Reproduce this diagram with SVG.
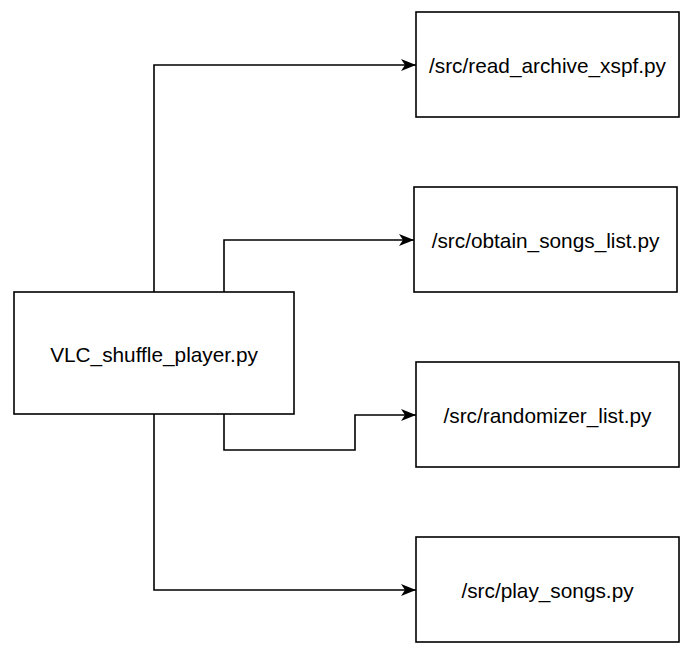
<svg xmlns="http://www.w3.org/2000/svg" width="691" height="653" viewBox="0 0 691 653">
<style>
.box{fill:#fff;stroke:#000;stroke-width:1.6}
.lbl{font-family:"Liberation Sans",Arial,sans-serif;font-size:20.8px;fill:#000;text-anchor:middle;dominant-baseline:central}
.edge{fill:none;stroke:#000;stroke-width:1.6}
</style>
<defs>
<marker id="arr" viewBox="0 0 15 12" refX="15" refY="6" markerWidth="15" markerHeight="12" markerUnits="userSpaceOnUse" orient="auto">
<path d="M0,0 L15,6 L0,12 L4,6 Z" fill="#000"/>
</marker>
</defs>
<rect width="691" height="653" fill="#fff"/>
<g id="connectors">
<path class="edge" d="M154,292 V65 H416" marker-end="url(#arr)"/>
<path class="edge" d="M224,292 V240 H414" marker-end="url(#arr)"/>
<path class="edge" d="M224,414 V450 H355 V415 H416" marker-end="url(#arr)"/>
<path class="edge" d="M154,414 V590 H416" marker-end="url(#arr)"/>
</g>
<g id="main"><rect class="box" x="14" y="292" width="280" height="122"/><text class="lbl" x="154" y="354">VLC_shuffle_player.py</text></g>
<g id="read_archive"><rect class="box" x="416" y="12" width="263" height="105"/><text class="lbl" x="547.5" y="65">/src/read_archive_xspf.py</text></g>
<g id="obtain_songs"><rect class="box" x="414" y="187" width="263" height="105"/><text class="lbl" x="545.5" y="240">/src/obtain_songs_list.py</text></g>
<g id="randomizer"><rect class="box" x="416" y="362" width="263" height="105"/><text class="lbl" x="547.5" y="415">/src/randomizer_list.py</text></g>
<g id="play_songs"><rect class="box" x="416" y="537" width="263" height="105"/><text class="lbl" x="547.5" y="590">/src/play_songs.py</text></g>
</svg>
